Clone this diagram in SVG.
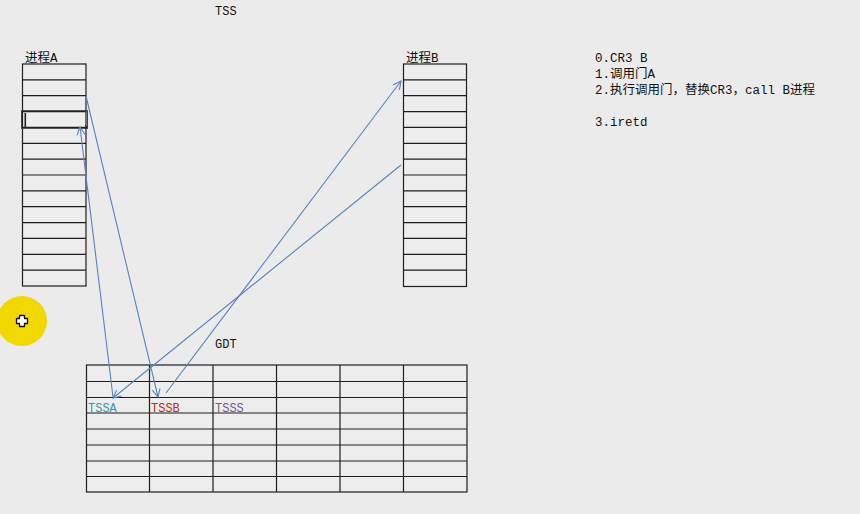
<svg xmlns="http://www.w3.org/2000/svg" width="860" height="514" viewBox="0 0 860 514">
<style>
.bg{fill:#ebebeb}
.tbl{fill:#ededed;stroke:#1e1e1e;stroke-width:1.2}
.ln{stroke:#1e1e1e;stroke-width:1.2;fill:none}
.t{font-family:"Liberation Mono","Noto Sans CJK SC",monospace;font-size:12px;fill:#111}
.nt{font-family:"Liberation Mono","Noto Sans CJK SC",monospace;font-size:12.5px;fill:#111}
.cn{font-family:"Liberation Mono","Noto Sans CJK SC",monospace;font-size:12.5px;fill:#111}
.conn{stroke:#5b82bd;stroke-width:1.1;fill:none;marker-end:url(#ah)}
</style>
<defs>
<marker id="ah" viewBox="-9 -5 10 10" refX="0" refY="0" markerWidth="10" markerHeight="10" markerUnits="userSpaceOnUse" orient="auto">
<path d="M-8,-4 L0,0 L-8,4" fill="none" stroke="#5b82bd" stroke-width="1.1"/>
</marker>
</defs>
<rect class="bg" x="0" y="0" width="860" height="514"/>

<text class="t" x="215" y="15">TSS</text>

<g id="processA">
<text class="cn" x="25" y="62">进程A</text>
<rect class="tbl" x="22.5" y="64" width="63.5" height="222"/>
<path class="ln" d="M22.5,79.9H86M22.5,95.7H86M22.5,111.6H86M22.5,127.4H86M22.5,143.3H86M22.5,159.1H86M22.5,175H86M22.5,190.9H86M22.5,206.7H86M22.5,222.6H86M22.5,238.4H86M22.5,254.3H86M22.5,270.1H86"/>
<rect x="21.5" y="110.6" width="66" height="17.8" fill="none" stroke="#444" stroke-width="1"/>
<rect x="24.5" y="113" width="1.6" height="14" fill="#222"/>
<path d="M85,125 l2,2 l-2,2" fill="none" stroke="#222" stroke-width="1"/>
</g>

<g id="processB">
<text class="cn" x="406" y="62">进程B</text>
<rect class="tbl" x="403.5" y="64" width="63" height="222.5"/>
<path class="ln" d="M403.5,79.9H466.5M403.5,95.7H466.5M403.5,111.6H466.5M403.5,127.4H466.5M403.5,143.3H466.5M403.5,159.1H466.5M403.5,175H466.5M403.5,190.9H466.5M403.5,206.7H466.5M403.5,222.6H466.5M403.5,238.4H466.5M403.5,254.3H466.5M403.5,270.1H466.5"/>
</g>

<g id="gdt">
<text class="t" x="215" y="348">GDT</text>
<rect class="tbl" x="86.5" y="365" width="380.5" height="127"/>
<path class="ln" d="M86.5,381.5H467M86.5,397.5H467M86.5,413H467M86.5,429H467M86.5,445H467M86.5,461H467M86.5,476.5H467"/>
<path class="ln" d="M149.5,365V492M213,365V492M276.5,365V492M340,365V492M403.5,365V492"/>
<text class="t" x="88" y="411.5" style="fill:#3a98b4">TSSA</text>
<text class="t" x="151" y="411.5" style="fill:#c0281c">TSSB</text>
<text class="t" x="215" y="411.5" style="fill:#6e5f8e">TSSS</text>
</g>

<g id="notes">
<text class="nt" x="595" y="62">0.CR3 B</text>
<text class="nt" x="595" y="78">1.调用门A</text>
<text class="nt" x="595" y="94">2.执行调用门，替换CR3，call B进程</text>
<text class="nt" x="595" y="126">3.iretd</text>
</g>

<g id="connectors">
<line class="conn" x1="86" y1="96" x2="158" y2="397"/>
<line class="conn" x1="113" y1="397" x2="80" y2="127"/>
<line class="conn" x1="166" y1="393" x2="401" y2="81"/>
<line class="conn" x1="401" y1="165" x2="113" y2="398"/>
</g>

<g id="cursor">
<circle cx="22" cy="321" r="25" fill="#f0d800"/>
<path d="M19.5,315.5h5v3h3v5h-3v3h-5v-3h-3v-5h3z" fill="#fff" stroke="#111" stroke-width="1.3" stroke-linejoin="round"/>
</g>
</svg>
